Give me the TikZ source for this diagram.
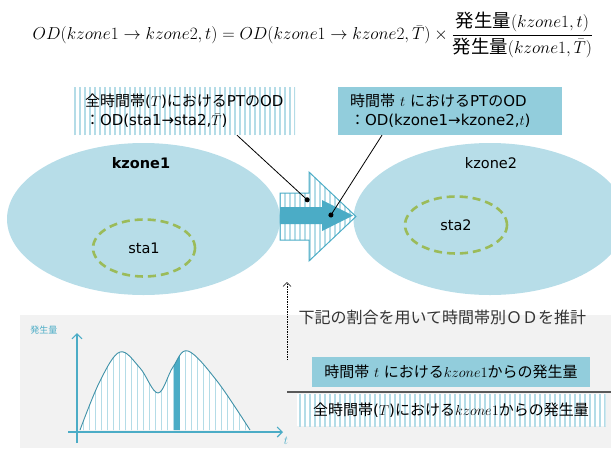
\documentclass[tikz,border=0pt]{standalone}
\usepackage{amsmath}
\usepackage{fontspec}
\setmainfont{DejaVu Sans}
\newfontfamily\jp{Noto Sans CJK JP}
\usetikzlibrary{arrows.meta,positioning,shapes.geometric,patterns.meta}
\definecolor{zoneblue}{HTML}{B7DDE8}
\definecolor{boxblue}{HTML}{92CDDC}
\definecolor{arrowblue}{HTML}{4BACC6}
\definecolor{stripeblue}{HTML}{B4DCE7}
\definecolor{stagreen}{HTML}{9BBB59}
\definecolor{panelgray}{HTML}{F2F2F2}
\definecolor{bargray}{HTML}{595959}
\definecolor{curveblue}{HTML}{3F91A8}
\tikzset{
  zone/.style={ellipse,fill=zoneblue,minimum width=273pt,minimum height=152pt},
  station/.style={ellipse,draw=stagreen,line width=2.6pt,dash pattern=on 8pt off 5pt,minimum width=102pt,minimum height=57pt,font=\fontsize{14.5}{17}\selectfont},
  striped/.style={preaction={fill=white},pattern={Lines[angle=90,distance=5pt,line width=1.5pt]},pattern color=stripeblue},
  odbox/.style={rectangle,align=left,inner xsep=12pt,minimum height=48pt,font=\fontsize{15}{19}\selectfont},
  genbox/.style={rectangle,align=center,font=\fontsize{15}{18}\selectfont},
  callout/.style={-{Circle[length=5pt]},line width=0.8pt},
  estimate/.style={-{Straight Barb[length=4pt,width=8pt]},line width=0.7pt,dash pattern=on 1.5pt off 1pt},
  axis/.style={-{Straight Barb[length=5pt,width=10pt]},draw=arrowblue,line width=1.1pt}
}

\begin{document}
\begin{tikzpicture}[x=1pt,y=-1pt]
\clip (0,0) rectangle (611,448);
% formula
\node[font=\fontsize{18.4}{22}\selectfont] (formula) at (313,35) {$OD(kzone1\rightarrow kzone2,t)=OD(kzone1\rightarrow kzone2,\bar{T})\times\dfrac{\text{\jp 発生量}(kzone1,t)}{\text{\jp 発生量}(kzone1,\bar{T})}$};
% lower panel
\fill[panelgray] (20,315) rectangle (611,448);
% zones
\node[zone] (kz1) at (143.5,219) {};
\node[zone] (kz2) at (490,219) {};
\node[font=\bfseries\fontsize{14.5}{17}\selectfont] (kz1label) at (141,163) {kzone1};
\node[font=\fontsize{14.5}{17}\selectfont] (kz2label) at (491,163) {kzone2};
\node[station] (sta1) at (144,248) {sta1};
\node[station] (sta2) at (456,225) {sta2};
% OD arrows
\draw[striped,draw=arrowblue,line width=1pt] (280,193) -- (309,193) -- (309,172) -- (356,216.5) -- (309,261) -- (309,240) -- (280,240) -- cycle;
\fill[arrowblue] (280,207) -- (322,207) -- (322,200) -- (353,215.5) -- (322,231) -- (322,224) -- (280,224) -- cycle;
% OD boxes
\node[odbox,striped,text width=198pt] (allbox) at (184,111) {{\jp 全時間帯}($T$){\jp における}PT{\jp の}OD\\{\jp ：}OD(sta1→sta2,$\bar{T}$)};
\node[odbox,fill=boxblue,text width=200pt] (tbox) at (450,111) {{\jp 時間帯} $t$ {\jp における}PT{\jp の}OD\\{\jp ：}OD(kzone1→kzone2,$t$)};
\coordinate (dotall) at (309,201.5);
\coordinate (dott) at (329.6,217.1);
\draw[callout] ([xshift=53pt]allbox.south) -- (dotall);
\draw[callout] ([xshift=-68pt]tbox.south) -- (dott);
% estimate
\coordinate (estfoot) at (287,360);
\coordinate (esttop) at (287,282);
\draw[estimate] (estfoot) -- (esttop);
\node[anchor=west,text=black!80,font=\fontsize{16}{19}\selectfont\jp] (note) at (295,317) {下記の割合を用いて時間帯別ＯＤを推計};
\node[genbox,fill=boxblue,minimum width=278pt,minimum height=30pt] (tgen) at (451,372) {{\jp 時間帯} $t$ {\jp における}$kzone1${\jp からの発生量}};
\node[genbox,striped,minimum width=309pt,minimum height=32pt,below=7pt of tgen] (allgen) {{\jp 全時間帯}($T$){\jp における}$kzone1${\jp からの発生量}};
\draw[bargray,line width=1.5pt] (287,392) -- (611,392);
% chart
\def\demandcurve{plot[smooth,tension=0.6] coordinates {(80,430) (100,381) (120,352) (140,368) (158,393) (173,367) (188,351) (217,381) (250,430)}}
\fill[white] \demandcurve -- cycle;
\begin{scope}
\clip \demandcurve -- cycle;
\foreach \x in {83,89,...,248}
  \draw[stripeblue,line width=1pt] (\x,340) -- (\x,431);
\fill[arrowblue] (174,340) rectangle (180,431);
\end{scope}
\draw[curveblue,line width=0.9pt] \demandcurve;
\coordinate (yfoot) at (77,443);
\coordinate (ytop) at (77,333);
\coordinate (xfoot) at (68,432);
\coordinate (xtop) at (283,432);
\draw[axis] (yfoot) -- (ytop);
\draw[axis] (xfoot) -- (xtop);
\node[text=arrowblue,font=\fontsize{9}{10}\selectfont\jp] (ylabel) at (44,330) {発生量};
\node[text=arrowblue,font=\fontsize{13}{15}\selectfont] (tlabel) at (286,441) {$t$};
\end{tikzpicture}
\end{document}
